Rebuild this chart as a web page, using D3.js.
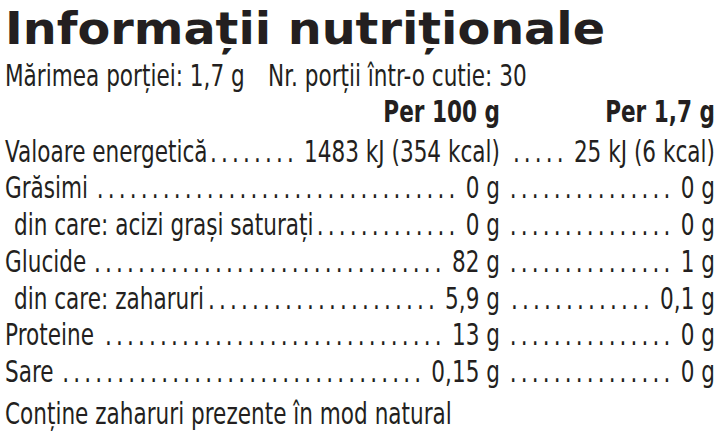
<!DOCTYPE html>
<html><head><meta charset="utf-8">
<script src="https://cdn.jsdelivr.net/npm/d3@7"></script>
<style>body{margin:0;background:#fff}text{fill:#231f20}</style>
</head><body><div id="label"></div>
<script>
// Data
const title = 'Informații nutriționale';
const servingLine = ['Mărimea porției: 1,7 g', 'Nr. porții într-o cutie: 30'];
const columns = ['Per 100 g', 'Per 1,7 g'];
const nutrients = ['Valoare energetică', 'Grăsimi', 'din care: acizi grași saturați', 'Glucide', 'din care: zaharuri', 'Proteine', 'Sare'];
const indent = [false, false, true, false, true, false, false];
const per100 = ['1483 kJ (354 kcal)', '0 g', '0 g', '82 g', '5,9 g', '13 g', '0,15 g'];
const perServing = ['25 kJ (6 kcal)', '0 g', '0 g', '1 g', '0,1 g', '0 g', '0 g'];
const footnote = 'Conține zaharuri prezente în mod natural';

document.addEventListener('DOMContentLoaded', drawLabel);

function drawLabel(){
  const W = 720, H = 444;
  const sx = 0.72; // horizontal squeeze to mimic a condensed face
  const svg = d3.select('#label').append('svg').attr('width', W).attr('height', H)
    .style('font-family', '"DejaVu Sans", sans-serif');

  svg.append('text').attr('x', 5).attr('y', 44).text(title)
    .style('font-weight', 900).style('font-size', '44px')
    .attr('textLength', 600).attr('lengthAdjust', 'spacingAndGlyphs');

  // condensed layer: all x in screen px, divided by sx
  const g0 = svg.append('g').attr('transform', `scale(${sx},1)`).style('font-size', '30px');
  const X = v => v / sx;
  const col1 = 500, col2 = 715;
  const y = d3.scaleBand().domain(d3.range(nutrients.length)).range([132, 389]);

  g0.append('text').attr('x', X(5)).attr('y', 86).text(servingLine[0]);
  g0.append('text').attr('x', X(268)).attr('y', 86).text(servingLine[1]);

  g0.selectAll('.hdr').data(columns).enter().append('text')
    .attr('x', (d, i) => X(i ? col2 : col1)).attr('y', 122)
    .attr('text-anchor', 'end').style('font-weight', 'bold').text(d => d);

  const dotStep = 11; // screen px between leader dots
  const probe = g0.append('text').text('.');
  const dotW = probe.node().getComputedTextLength();
  probe.remove();
  const ls = X(dotStep) - dotW;

  const rows = g0.selectAll('.row').data(nutrients).enter().append('g')
    .attr('transform', (d, i) => `translate(0,${y(i) + y.bandwidth() - 7})`);

  rows.each(function(d, i){
    const g = d3.select(this);
    const x0 = indent[i] ? 14 : 5;
    const lab = g.append('text').attr('x', X(x0)).text(d);
    const v1 = g.append('text').attr('x', X(col1)).attr('text-anchor', 'end').text(per100[i]);
    const v2 = g.append('text').attr('x', X(col2)).attr('text-anchor', 'end').text(perServing[i]);
    const labEnd = x0 + lab.node().getComputedTextLength() * sx + 2;
    const v1Start = col1 - v1.node().getComputedTextLength() * sx - 6;
    const v2Start = col2 - v2.node().getComputedTextLength() * sx - 6;
    const fill = (a, b) => {
      const n = Math.max(0, Math.floor((b - a) / dotStep));
      g.append('text').attr('x', X(b - n * dotStep)).style('letter-spacing', ls + 'px')
        .text('.'.repeat(n));
    };
    fill(labEnd, v1Start);
    fill(col1 + 6, v2Start);
  });

  g0.append('text').attr('x', X(5)).attr('y', 424).text(footnote);
}
</script></body></html>
